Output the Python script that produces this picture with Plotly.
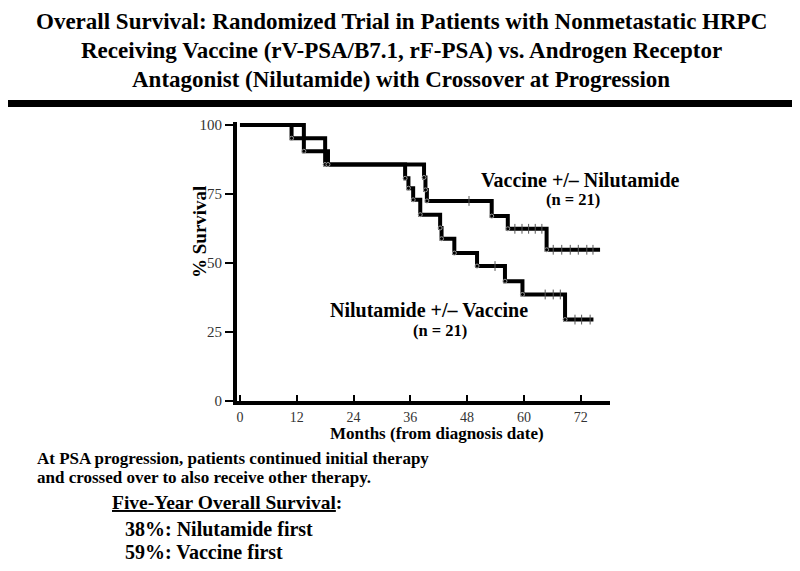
import numpy as np
import plotly.graph_objects as go

# ---- data ----
vac_t = [0, 10.9, 18.0, 38.9, 39.2, 39.5, 53.2, 56.6, 64.8, 76.1]
vac_s = [100, 95.2, 85.7, 81.0, 76.5, 72.5, 67.0, 62.4, 54.8, 54.8]
vac_cens = [48.4, 58.1, 59.6, 61.0, 62.4, 63.8, 66.2, 68.0, 69.8, 71.5, 73.3, 74.6]

nil_t = [0, 13.5, 18.6, 34.9, 35.6, 36.6, 38.1, 42.3, 42.6, 45.3, 50.1, 56.0, 59.7, 68.7, 74.7]
nil_s = [100, 90.5, 85.7, 80.7, 77.1, 72.9, 67.5, 62.7, 58.8, 53.6, 48.9, 43.4, 38.6, 29.5, 29.5]
nil_cens = [53.9, 64.5, 66.2, 67.7, 70.8, 72.2, 74.0]

x_ticks = [0, 12, 24, 36, 48, 60, 72]
y_ticks = [0, 25, 50, 75, 100]

# page has an 8px body margin: the figure occupies screen pixels 8..800 x 8..571
OFF = 8
W, H = 800 - OFF, 571 - OFF
L, R, T, B = 237, 610, 122, 401  # plot area in screen pixels


def step_at(ts, ss, q):
    idx = np.searchsorted(np.array(ts), np.array(q), side="right") - 1
    return [ss[i] for i in idx]


def px(x):
    return (x - L) / (R - L)


def py(y):
    return (B - y) / (B - T)


SERIF = "Liberation Serif, Times New Roman, serif"
fig = go.Figure()

for ts, ss, cens in [(vac_t, vac_s, vac_cens), (nil_t, nil_s, nil_cens)]:
    fig.add_trace(go.Scatter(x=ts, y=ss, mode="lines", line=dict(shape="hv", color="black", width=4),
                             hoverinfo="skip", showlegend=False))
    fig.add_trace(go.Scatter(x=ts[1:-1], y=ss[1:-1], mode="markers",
                             marker=dict(symbol="circle-open", size=4, color="#9a9a9a", line=dict(width=1)),
                             hoverinfo="skip", showlegend=False))
    fig.add_trace(go.Scatter(x=cens, y=step_at(ts, ss, cens), mode="markers",
                             marker=dict(symbol="line-ns", size=7, line=dict(width=1, color="#555")),
                             hoverinfo="skip", showlegend=False))

fig.update_xaxes(range=[-0.63, 78.2], tickvals=x_ticks, ticks="inside", ticklen=6, tickwidth=2,
                 tickcolor="black", showline=True, linewidth=4, linecolor="black", showgrid=False,
                 zeroline=False, tickfont=dict(family=SERIF, size=14, color="#333"))
fig.update_yaxes(range=[0, 101.1], tickvals=y_ticks, ticks="outside", ticklen=8, tickwidth=2,
                 tickcolor="black", showline=True, linewidth=4, linecolor="black", showgrid=False,
                 zeroline=False, tickfont=dict(family=SERIF, size=15, color="#333"))

ann = []
title_lines = ["Overall Survival: Randomized Trial in Patients with Nonmetastatic HRPC",
               "Receiving Vaccine (rV-PSA/B7.1, rF-PSA) vs. Androgen Receptor",
               "Antagonist (Nilutamide) with Crossover at Progression"]
for t, yc in zip(title_lines, [22, 51, 80]):
    ann.append(dict(text="<b>%s</b>" % t, x=px(401), y=py(yc), xanchor="center", yanchor="middle",
                    font=dict(family=SERIF, size=23)))

ann += [
    dict(text="<b>Vaccine +/– Nilutamide</b>", x=px(580), y=py(180), xanchor="center", yanchor="middle",
         font=dict(family=SERIF, size=20)),
    dict(text="<b>(n = 21)</b>", x=px(573), y=py(199), xanchor="center", yanchor="middle",
         font=dict(family=SERIF, size=16.5)),
    dict(text="<b>Nilutamide +/– Vaccine</b>", x=px(429), y=py(310), xanchor="center", yanchor="middle",
         font=dict(family=SERIF, size=20)),
    dict(text="<b>(n = 21)</b>", x=px(440), y=py(330), xanchor="center", yanchor="middle",
         font=dict(family=SERIF, size=16.5)),
    dict(text="<b>Months (from diagnosis date)</b>", x=px(437), y=py(434), xanchor="center", yanchor="middle",
         font=dict(family=SERIF, size=17)),
    dict(text="<b>% Survival</b>", x=px(199), y=py(232), xanchor="center", yanchor="middle", textangle=-90,
         font=dict(family=SERIF, size=19)),
    dict(text="<b>At PSA progression, patients continued initial therapy</b>",
         x=px(35), y=py(458), xanchor="left", yanchor="middle", font=dict(family=SERIF, size=17)),
    dict(text="<b>and crossed over to also receive other therapy.</b>",
         x=px(35), y=py(477), xanchor="left", yanchor="middle", font=dict(family=SERIF, size=17)),
    dict(text="<b><u>Five-Year Overall Survival</u>:</b>", x=px(110), y=py(502), xanchor="left", yanchor="middle",
         font=dict(family=SERIF, size=19.5)),
    dict(text="<b>38%: Nilutamide first</b>", x=px(123), y=py(529), xanchor="left", yanchor="middle",
         font=dict(family=SERIF, size=20)),
    dict(text="<b>59%: Vaccine first</b>", x=px(123), y=py(552), xanchor="left", yanchor="middle",
         font=dict(family=SERIF, size=20)),
]
for a in ann:
    a.update(xref="paper", yref="paper", showarrow=False)
    a["font"]["color"] = "black"

fig.update_layout(
    width=W, height=H, margin=dict(l=L - OFF, r=800 - R, t=T - OFF, b=571 - B, pad=0),
    paper_bgcolor="white", plot_bgcolor="white", annotations=ann,
    shapes=[dict(type="rect", xref="paper", yref="paper", x0=px(5), x1=px(795), y0=py(107), y1=py(100),
                 fillcolor="black", line=dict(width=0))],
)

fig.write_html("out.html")
